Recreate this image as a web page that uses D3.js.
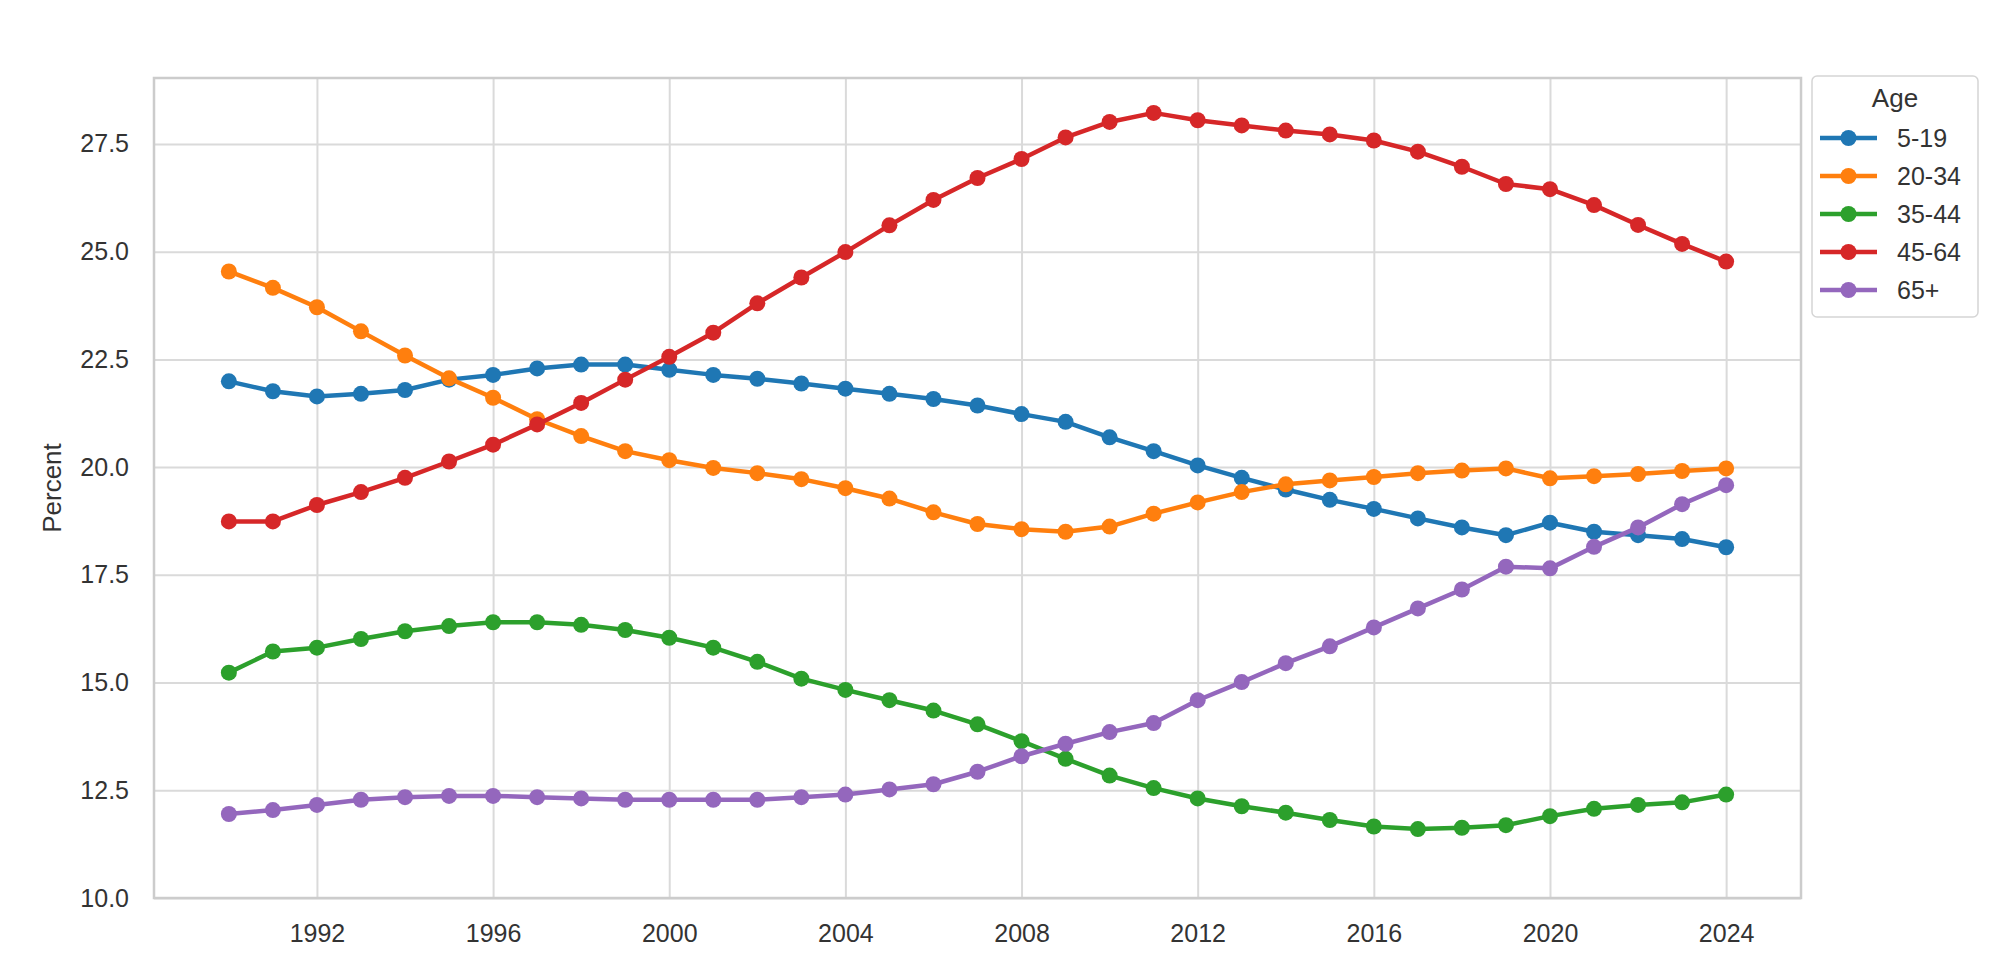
<!DOCTYPE html>
<html>
<head>
<meta charset="utf-8">
<script src="https://cdn.jsdelivr.net/npm/d3@7"></script>
<style>
  body { margin: 0; background: #fff; }
  svg { display: block; font-family: "Liberation Sans", Arial, sans-serif; }
</style>
</head>
<body>
<svg id="chart" width="2000" height="969"></svg>
<script>
const years = d3.range(1990, 2025);
const seriesNames = ["5-19", "20-34", "35-44", "45-64", "65+"];
const colors = ["#1f77b4", "#ff7f0e", "#2ca02c", "#d62728", "#9467bd"];

const age5_19 = [21.99, 21.76, 21.64, 21.70, 21.79, 22.03, 22.14, 22.29, 22.38, 22.38,
  22.26, 22.14, 22.05, 21.94, 21.82, 21.70, 21.58, 21.43, 21.23, 21.05,
  20.69, 20.37, 20.04, 19.75, 19.48, 19.24, 19.03, 18.81, 18.60, 18.42,
  18.71, 18.50, 18.42, 18.33, 18.14];
const age20_34 = [24.54, 24.16, 23.71, 23.15, 22.59, 22.06, 21.61, 21.11, 20.72, 20.37,
  20.16, 19.98, 19.86, 19.72, 19.51, 19.27, 18.95, 18.68, 18.56, 18.50,
  18.62, 18.92, 19.18, 19.42, 19.60, 19.69, 19.77, 19.86, 19.92, 19.97,
  19.74, 19.79, 19.84, 19.91, 19.97];
const age35_44 = [15.23, 15.72, 15.81, 16.01, 16.19, 16.31, 16.40, 16.40, 16.34, 16.22,
  16.04, 15.81, 15.48, 15.09, 14.83, 14.59, 14.35, 14.03, 13.64, 13.23,
  12.84, 12.55, 12.31, 12.13, 11.98, 11.81, 11.66, 11.60, 11.63, 11.69,
  11.90, 12.07, 12.16, 12.22, 12.40];
const age45_64 = [18.74, 18.74, 19.12, 19.42, 19.75, 20.13, 20.52, 20.99, 21.49, 22.03,
  22.56, 23.12, 23.80, 24.40, 24.99, 25.61, 26.20, 26.71, 27.15, 27.65,
  28.01, 28.22, 28.05, 27.93, 27.81, 27.72, 27.58, 27.32, 26.97, 26.57,
  26.45, 26.08, 25.62, 25.18, 24.77];
const age65plus = [11.95, 12.04, 12.16, 12.28, 12.34, 12.37, 12.37, 12.34, 12.31, 12.28,
  12.28, 12.28, 12.28, 12.34, 12.40, 12.52, 12.64, 12.93, 13.29, 13.58,
  13.85, 14.06, 14.59, 15.01, 15.45, 15.84, 16.28, 16.72, 17.16, 17.69,
  17.65, 18.15, 18.60, 19.14, 19.58];

const xTicks = [1992, 1996, 2000, 2004, 2008, 2012, 2016, 2020, 2024];
const yTicks = [10.0, 12.5, 15.0, 17.5, 20.0, 22.5, 25.0, 27.5];
const yLabel = "Percent";
const legendTitle = "Age";

const allSeries = [age5_19, age20_34, age35_44, age45_64, age65plus];

const plotL = 154, plotR = 1801, plotT = 78, plotB = 898;
const svg = d3.select("#chart");
const x = d3.scaleLinear().domain([1988.3, 2025.7]).range([plotL, plotR]);
const y = d3.scaleLinear().domain([10, 29.03]).range([plotB, plotT]);
const textColor = "#333333";
const gridColor = "#dadada";

// x grid + labels
const xAxis = svg.append("g")
  .attr("transform", `translate(0,${plotB})`)
  .call(d3.axisBottom(x).tickValues(xTicks).tickFormat(d3.format("d"))
    .tickSize(-(plotB - plotT)).tickPadding(26));
xAxis.select(".domain").remove();
xAxis.selectAll(".tick line").attr("stroke", gridColor).attr("stroke-width", 2);
xAxis.selectAll(".tick text").attr("fill", textColor).style("font-size", "25px")
  .style("font-family", "'Liberation Sans', Arial, sans-serif");

// y grid + labels
const yAxis = svg.append("g")
  .attr("transform", `translate(${plotL},0)`)
  .call(d3.axisLeft(y).tickValues(yTicks).tickFormat(d3.format(".1f"))
    .tickSize(-(plotR - plotL)).tickPadding(25));
yAxis.select(".domain").remove();
yAxis.selectAll(".tick line").attr("stroke", gridColor).attr("stroke-width", 2);
yAxis.selectAll(".tick text").attr("fill", textColor).style("font-size", "25px")
  .style("font-family", "'Liberation Sans', Arial, sans-serif");

// spines
svg.append("rect")
  .attr("x", plotL).attr("y", plotT)
  .attr("width", plotR - plotL).attr("height", plotB - plotT)
  .attr("fill", "none").attr("stroke", "#cccccc").attr("stroke-width", 2.5);

// y label
svg.append("text")
  .attr("transform", `translate(52,${(plotT + plotB) / 2}) rotate(-90)`)
  .attr("text-anchor", "middle")
  .attr("dominant-baseline", "central")
  .attr("fill", textColor)
  .style("font-size", "26px")
  .text(yLabel);

// lines + markers
const line = d3.line().x((d, i) => x(years[i])).y(d => y(d));
allSeries.forEach((vals, si) => {
  const g = svg.append("g");
  g.append("path")
    .datum(vals)
    .attr("d", line)
    .attr("fill", "none")
    .attr("stroke", colors[si])
    .attr("stroke-width", 4.5)
    .attr("stroke-linejoin", "round");
  g.selectAll("circle")
    .data(vals)
    .enter().append("circle")
    .attr("cx", (d, i) => x(years[i]))
    .attr("cy", d => y(d))
    .attr("r", 8)
    .attr("fill", colors[si]);
});

// legend
const lg = svg.append("g");
lg.append("rect")
  .attr("x", 1812).attr("y", 76)
  .attr("width", 166).attr("height", 241)
  .attr("rx", 5).attr("ry", 5)
  .attr("fill", "#ffffff").attr("stroke", "#d5d5d5").attr("stroke-width", 1.5);
lg.append("text")
  .attr("x", 1895).attr("y", 107)
  .attr("text-anchor", "middle")
  .attr("fill", textColor)
  .style("font-size", "26px")
  .text(legendTitle);
seriesNames.forEach((name, i) => {
  const cy = 138 + i * 38;
  lg.append("line")
    .attr("x1", 1820).attr("x2", 1877)
    .attr("y1", cy).attr("y2", cy)
    .attr("stroke", colors[i]).attr("stroke-width", 4.5);
  lg.append("circle")
    .attr("cx", 1848.5).attr("cy", cy).attr("r", 8)
    .attr("fill", colors[i]);
  lg.append("text")
    .attr("x", 1897).attr("y", cy)
    .attr("dominant-baseline", "central")
    .attr("fill", textColor)
    .style("font-size", "25px")
    .text(name);
});
</script>
</body>
</html>
